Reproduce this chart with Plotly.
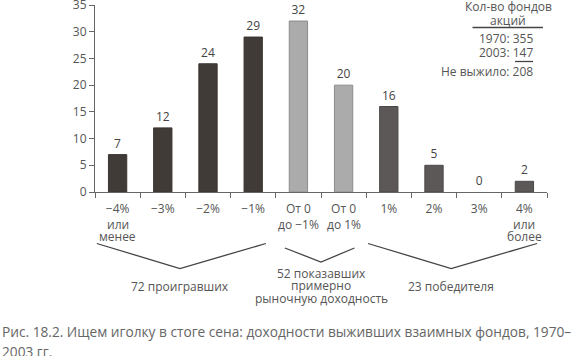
import plotly.graph_objects as go

tick_first = ["−4%", "−3%", "−2%", "−1%", "От 0", "От 0", "1%", "2%", "3%", "4%"]
tick_more = [["или", "менее"], [], [], [], ["до −1%"], ["до 1%"], [], [], [], ["или", "более"]]
fund_counts = [7, 12, 24, 29, 32, 20, 16, 5, 0, 2]
group_of_bar = ["lose", "lose", "lose", "lose", "mkt", "mkt", "win", "win", "win", "win"]
groups = [(["72 проигравших"], 0, 3),
          (["52 показавших", "примерно", "рыночную доходность"], 4, 5),
          (["23 победителя"], 6, 9)]
box_lines = ["Кол-во фондов", "акций", "1970: 355", "2003: 147", "Не выжило: 208"]
caption = ["Рис. 18.2. Ищем иголку в стоге сена: доходности выживших взаимных фондов, 1970–",
           "2003 гг."]

FILL = {"lose": "#413b37", "mkt": "#ababab", "win": "#5b5857"}
EDGE = {"lose": "#3a3431", "mkt": "#8c8c8c", "win": "#4a4746"}
FONT = "Open Sans"
TXT = "#555555"

# plot area in pixels (for paper-coordinate helpers)
TOP, BOT = 5, 192
PH = BOT - TOP
L, R = 95, 547
PW = R - L


def py(p):  # pixel y -> paper y
    return (BOT - p) / PH


def px(p):  # pixel x -> paper x
    return (p - L) / PW


xs = list(range(len(tick_first)))
fig = go.Figure(go.Bar(
    x=xs, y=fund_counts, width=0.405,
    marker=dict(color=[FILL[g] for g in group_of_bar],
                line=dict(color=[EDGE[g] for g in group_of_bar],
                          width=[1 if v > 0 else 0 for v in fund_counts])),
    text=[str(v) for v in fund_counts], textposition="outside",
    textfont=dict(family=FONT, size=12, color="#444444"), cliponaxis=False,
    hoverinfo="skip",
))

fig.update_layout(
    width=580, height=356, margin=dict(l=L, r=580 - R, t=TOP, b=356 - BOT),
    paper_bgcolor="white", plot_bgcolor="white", showlegend=False,
    font=dict(family=FONT, size=12, color=TXT),
    xaxis=dict(range=[-0.5, len(xs) - 0.5], tickmode="array", tickvals=xs,
               ticktext=tick_first, ticks="", showline=True, linecolor="#666666",
               linewidth=1, showgrid=False, zeroline=False, ticklabelstandoff=6,
               automargin=False, tickfont=dict(size=12, color=TXT),
               minor=dict(tickmode="array", tickvals=[i - 0.5 for i in range(len(xs) + 1)],
                          ticks="outside", ticklen=5, tickcolor="#666666", tickwidth=1)),
    yaxis=dict(range=[0, 35], dtick=5, ticks="outside", ticklen=5, tickcolor="#666666",
               showline=True, linecolor="#666666", linewidth=1, showgrid=False,
               zeroline=False, automargin=False, ticklabeloverflow="allow",
               tickfont=dict(size=12, color=TXT)),
)

# continuation lines of category labels
for i, more in enumerate(tick_more):
    for k, line in enumerate(more):
        fig.add_annotation(x=i, y=py(224 + 12.5 * k), xref="x", yref="paper", text=line,
                           showarrow=False, xanchor="center", yanchor="middle",
                           font=dict(size=12, color=TXT))

# brackets under groups
for lines, a, b in groups:
    wide = b - a > 1
    x0, x1 = (a - 0.46, b + 0.28) if wide else (a - 0.3, b + 0.24)
    y0 = py(243.5) if wide else py(248)
    xm = (a + b) / 2 - (0.12 if wide else 0)
    ym = py(268.5) if wide else py(262)
    fig.add_shape(type="path", path=f"M {x0},{y0} L {xm},{ym} L {x1},{y0}",
                  xref="x", yref="paper", line=dict(color="#444444", width=1.3))
    start = 286 if wide else 273.5
    for k, line in enumerate(lines):
        fig.add_annotation(x=xm, y=py(start + 12.3 * k), xref="x", yref="paper", text=line,
                           showarrow=False, xanchor="center", yanchor="middle",
                           font=dict(size=12, color=TXT))

# top-right box
fig.add_annotation(x=px(508), y=py(6.5), xref="paper", yref="paper", text=box_lines[0],
                   showarrow=False, font=dict(size=12, color=TXT),
                   xanchor="center", yanchor="middle")
fig.add_annotation(x=px(508), y=py(20), xref="paper", yref="paper", text=box_lines[1],
                   showarrow=False, font=dict(size=12, color=TXT),
                   xanchor="center", yanchor="middle")
for txt, yy in zip(box_lines[2:], [38.5, 52.5, 71.5]):
    fig.add_annotation(x=px(535), y=py(yy), xref="paper", yref="paper", text=txt,
                       showarrow=False, xanchor="right", yanchor="middle",
                       font=dict(size=12, color=TXT))
fig.add_shape(type="line", x0=px(472.5), x1=px(543), y0=py(27.5), y1=py(27.5),
              xref="paper", yref="paper", line=dict(color="#444444", width=1.3))
fig.add_shape(type="line", x0=px(515), x1=px(533), y0=py(61.5), y1=py(61.5),
              xref="paper", yref="paper", line=dict(color="#444444", width=1.3))

# caption
for line, yy in zip(caption, [331.5, 351.5]):
    fig.add_annotation(x=px(0), y=py(yy), xref="paper", yref="paper", text=line,
                       showarrow=False, xanchor="left", yanchor="middle",
                       font=dict(size=13.7, color="#666666"))

fig.write_html("out.html", config={"displayModeBar": False},
               post_script="document.body.style.margin='0';")
